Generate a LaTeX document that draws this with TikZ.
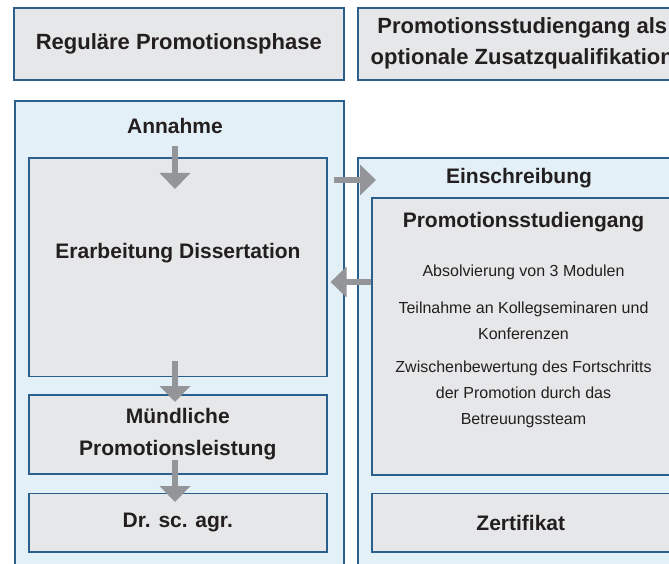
\documentclass[tikz,border=0pt]{standalone}
\usepackage{fontspec}
\setmainfont{Liberation Sans}
\usetikzlibrary{calc,arrows.meta}
\definecolor{bleu_bord}{HTML}{2B5F8E}
\definecolor{bleu_fond}{HTML}{E3F0F7}
\definecolor{gris_fond}{HTML}{E6E7E8}
\definecolor{gris_fleche}{HTML}{939598}
\definecolor{texte_fonce}{HTML}{231F20}

\begin{document}
\begin{tikzpicture}[x=1pt,y=-1pt,
    cadre/.style={draw=bleu_bord, line width=1.6pt, fill=bleu_fond, anchor=north west, inner sep=0pt},
    boite/.style={draw=bleu_bord, line width=1.6pt, fill=gris_fond, anchor=north west, inner sep=0pt,
        font=\fontsize{21}{32}\selectfont\bfseries, text=texte_fonce, align=center},
    entete/.style={boite, font=\fontsize{22}{31}\selectfont\bfseries},
    titre/.style={font=\fontsize{21}{32}\selectfont\bfseries, text=texte_fonce, align=center},
    liste/.style={font=\fontsize{16}{26}\selectfont, text=texte_fonce, align=center},
    fleche/.style={-{Triangle[width=30pt,length=16pt]}, line width=5.5pt, draw=gris_fleche}]

        % Fixer le cadre de l'image
        \useasboundingbox (0,0) rectangle (669,564);
        \clip (0,0) rectangle (669,564);

        % En-tetes des deux colonnes
        \node[entete, minimum width=330pt, minimum height=72pt] (entete_gauche) at (13,7) {Reguläre Promotionsphase};
        \node[entete, minimum width=329pt, minimum height=72pt] (entete_droite) at (357,7) {Promotionsstudiengang als\\optionale Zusatzqualifikation};

        % Cadres bleus des deux colonnes
        \node[cadre, minimum width=329pt, minimum height=520pt] (col_gauche) at (14,100.5) {};
        \node[cadre, minimum width=329pt, minimum height=460pt] (col_droite) at (357,157) {};

        % Colonne de gauche
        \node[titre] (annahme) at (175,126) {Annahme};
        \node[boite, minimum width=298pt, minimum height=218pt] (erarbeitung) at (28,157.5) {};
        \node[titre] (erarbeitung_txt) at (178,253) {Erarbeitung Dissertation};
        \node[boite, minimum width=298pt, minimum height=79pt] (muendlich) at (28,394) {Mündliche\\Promotionsleistung};
        \node[boite, minimum width=298pt, minimum height=58.5pt] (doktor) at (28,492.5) {Dr. sc. agr.};

        % Colonne de droite
        \node[titre] (einschreibung) at (519,178) {Einschreibung};
        \node[boite, minimum width=298pt, minimum height=276.5pt] (studiengang) at (371,197.5) {};
        \node[titre] (studiengang_txt) at (523.5,222) {Promotionsstudiengang};
        \node[liste] (module) at (523.5,272.5) {Absolvierung von 3 Modulen};
        \node[liste] (seminare) at (523.5,321) {Teilnahme an Kollegseminaren und\\Konferenzen};
        \node[liste] (bewertung) at (523.5,394.5) {Zwischenbewertung des Fortschritts\\der Promotion durch das\\Betreuungssteam};
        \node[boite, minimum width=298pt, minimum height=58.5pt] (zertifikat) at (371,492.5) {Zertifikat};

        % Fleches verticales de la colonne de gauche
        \draw[fleche] ([yshift=-9pt]annahme.south) -- ([yshift=-31.5pt]annahme.south |- erarbeitung.north);
        \draw[fleche] ([yshift=16.5pt]annahme.south |- erarbeitung.south) -- ([yshift=-8pt]annahme.south |- muendlich.north);
        \draw[fleche] ([yshift=15pt]annahme.south |- muendlich.south) -- ([yshift=-9.5pt]annahme.south |- doktor.north);

        % Fleches entre les colonnes
        \coordinate (niveau_aller) at (0,180);
        \coordinate (niveau_retour) at (0,282);
        \draw[fleche] ([xshift=6pt]erarbeitung.east |- niveau_aller) -- ([xshift=19pt]col_droite.west |- niveau_aller);
        \draw[fleche] (studiengang.west |- niveau_retour) -- ([xshift=3pt]erarbeitung.east |- niveau_retour);
    \end{tikzpicture}
\end{document}
